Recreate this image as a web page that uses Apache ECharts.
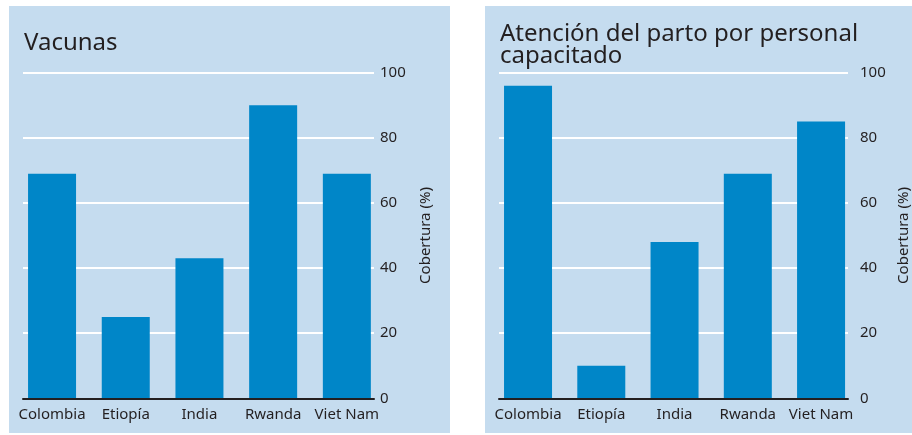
<!DOCTYPE html>
<html><head><meta charset="utf-8">
<script src="https://cdn.jsdelivr.net/npm/echarts@6/dist/echarts.min.js"></script>
<style>html,body{margin:0;padding:0;background:#fff}#c{width:912px;height:435px}</style>
</head><body><div id="c"></div>
<script>
const categories = ['Colombia', 'Etiopía', 'India', 'Rwanda', 'Viet Nam'];
const vacunas = [69, 25, 43, 90, 69];
const parto = [96, 10, 48, 69, 85];
const yTicks = [0, 20, 40, 60, 80, 100];
const titles = ['Vacunas', 'Atención del parto por personal\ncapacitado'];
const axisName = 'Cobertura (%)';

const FONT = 'Noto Sans';
const TXT = '#231f20';
const BG = '#c5dcef';
const BAR = '#0086c8';

const chart = echarts.init(document.getElementById('c'), null, {renderer: 'canvas'});
const yMin = yTicks[0], yMax = yTicks[yTicks.length - 1], yInt = yTicks[1] - yTicks[0];

function barX(grid) {
  return {type: 'category', gridIndex: grid, data: categories,
    axisLine: {show: false}, axisTick: {show: false},
    axisLabel: {fontFamily: FONT, fontSize: 15, color: TXT, margin: 9, interval: 0}};
}
function barY(grid) {
  return {type: 'value', gridIndex: grid, min: yMin, max: yMax, interval: yInt, show: false};
}
function lineX(grid) {
  return {type: 'value', gridIndex: grid, min: 0, max: 1, z: 5,
    axisLine: {show: true, onZero: false, lineStyle: {color: TXT, width: 2}},
    axisTick: {show: false}, axisLabel: {show: false}, splitLine: {show: false}};
}
function lineY(grid, margin, gap) {
  return {type: 'value', gridIndex: grid, position: 'right', min: yMin, max: yMax, interval: yInt,
    axisLine: {show: false}, axisTick: {show: false},
    axisLabel: {fontFamily: FONT, fontSize: 15, color: TXT, margin: margin},
    splitLine: {show: true, lineStyle: {color: '#ffffff', width: 2}},
    name: axisName, nameLocation: 'middle', nameRotate: 90, nameGap: gap,
    nameTextStyle: {fontFamily: FONT, fontSize: 15, color: TXT}};
}

chart.setOption({
  animation: false,
  backgroundColor: '#ffffff',
  graphic: [
    {type: 'rect', z: -10, shape: {x: 9, y: 6, width: 441, height: 427}, style: {fill: BG}},
    {type: 'rect', z: -10, shape: {x: 485, y: 6, width: 430, height: 427}, style: {fill: BG}}
  ],
  title: [
    {text: titles[0], left: 19, top: 26, textStyle: {fontFamily: FONT, fontSize: 24, fontWeight: 'normal', color: TXT}},
    {text: titles[1], left: 495, top: 18, textStyle: {fontFamily: FONT, fontSize: 24, fontWeight: 'normal', color: TXT, lineHeight: 22}}
  ],
  grid: [
    {left: 15.2, top: 72.7, width: 368.5, height: 325.6},
    {left: 23, top: 72.7, width: 351, height: 325.6},
    {left: 491.4, top: 72.7, width: 366.3, height: 325.6},
    {left: 499, top: 72.7, width: 351, height: 325.6}
  ],
  xAxis: [barX(0), lineX(1), barX(2), lineX(3)],
  yAxis: [barY(0), lineY(1, 6, 44), barY(2), lineY(3, 12, 48)],
  series: [
    {type: 'bar', xAxisIndex: 0, yAxisIndex: 0, data: vacunas, barWidth: 48, itemStyle: {color: BAR}},
    {type: 'bar', xAxisIndex: 2, yAxisIndex: 2, data: parto, barWidth: 48, itemStyle: {color: BAR}}
  ]
});
</script>
</body></html>
